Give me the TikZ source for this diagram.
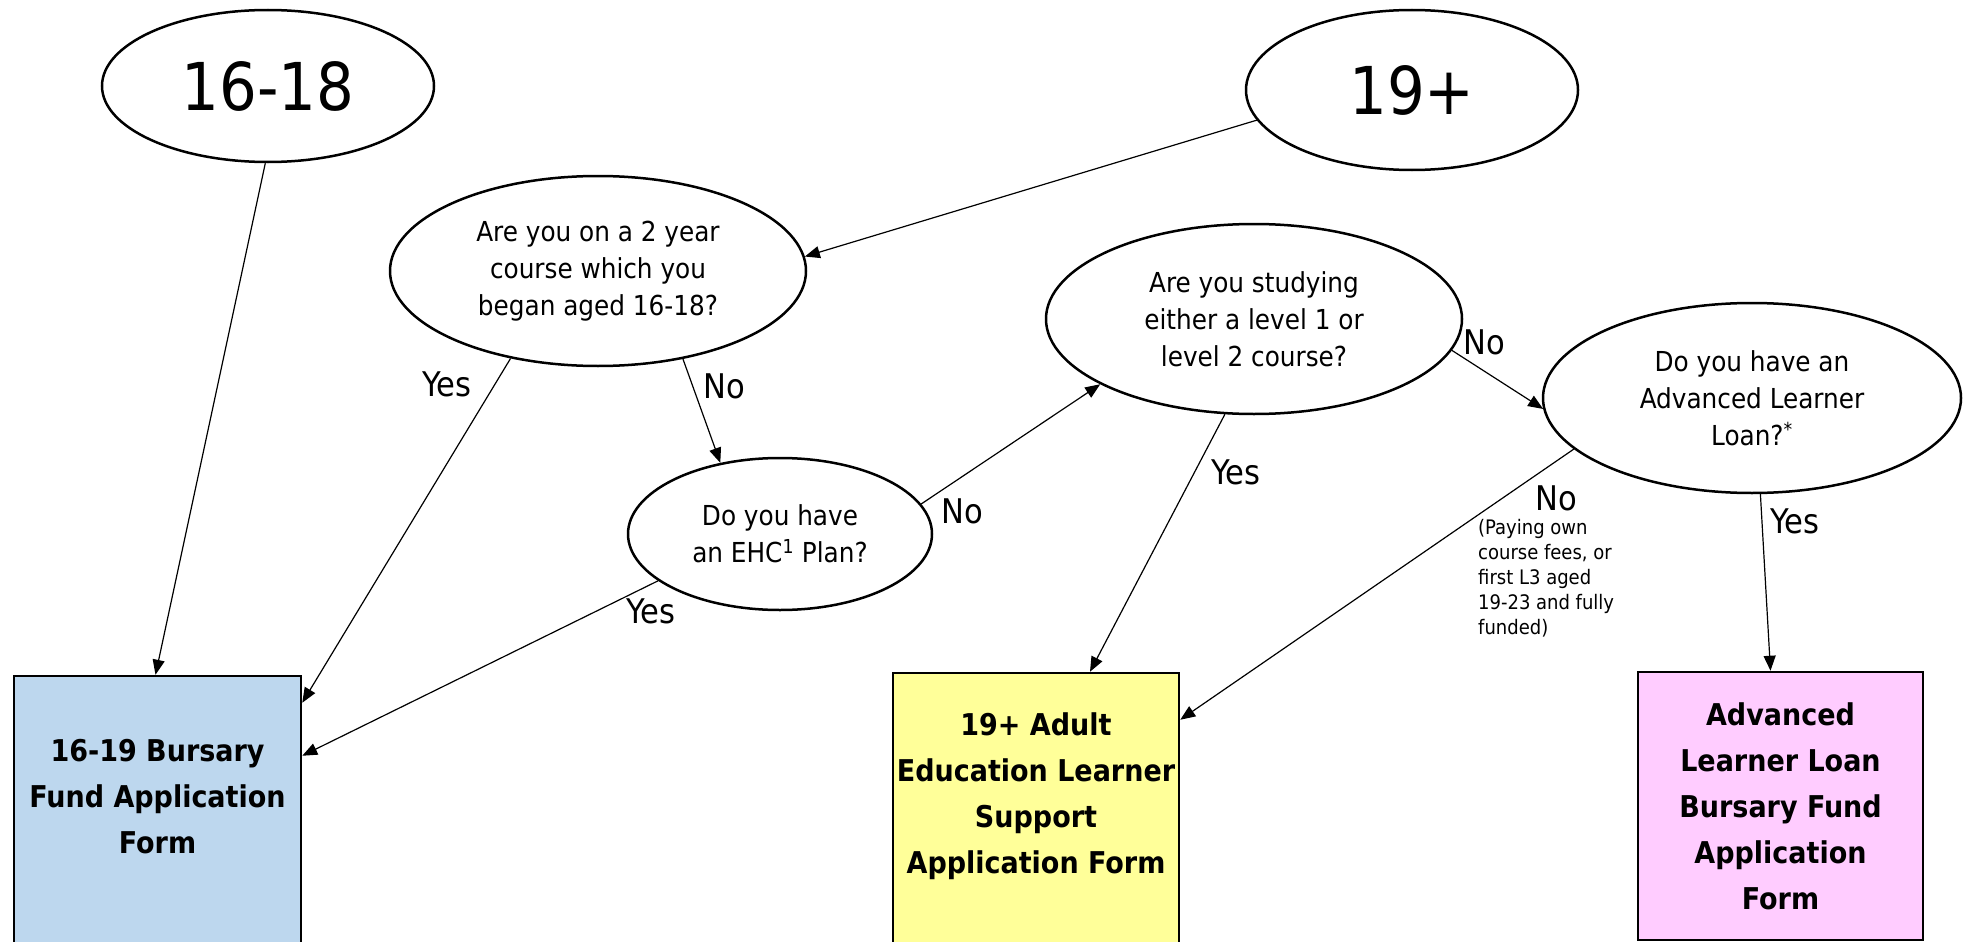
\documentclass[tikz,border=0pt]{standalone}
\usepackage{fontspec}
\setmainfont{DejaVu Sans Condensed}
\usetikzlibrary{positioning, shapes.geometric, arrows.meta}
\definecolor{bursaryblue}{RGB}{189,215,238}
\definecolor{adultyellow}{RGB}{255,255,153}
\definecolor{loanpink}{RGB}{255,204,255}

\begin{document}
\begin{tikzpicture}[x=1pt, y=-1pt,
  age/.style={draw, ellipse, line width=2.5pt, inner sep=0pt, font=\fontsize{66}{70}\selectfont},
  question/.style={draw, ellipse, line width=2.5pt, inner sep=0pt, align=center, font=\fontsize{27.5}{37}\selectfont},
  formbox/.style={draw, rectangle, line width=2.5pt, inner sep=0pt},
  formtext/.style={align=center, font=\bfseries\fontsize{30}{46}\selectfont},
  answer/.style={font=\fontsize{34}{36}\selectfont},
  note/.style={align=left, inner sep=0pt, font=\fontsize{20}{25}\selectfont},
  flow/.style={line width=1.2pt, -{Triangle[length=15pt,width=12pt]}}]
  \useasboundingbox (0,0) rectangle (1966,942);

  % start
  \node[age, minimum width=332pt, minimum height=152pt] (age16) at (268,86) {16-18};
  \node[age, minimum width=332pt, minimum height=160pt] (age19) at (1412,90) {19+};

  % questions
  \node[question, minimum width=416pt, minimum height=190pt] (twoyear) at (598,271)
    {Are you on a 2 year\\course which you\\began aged 16-18?};
  \node[question, minimum width=416pt, minimum height=190pt] (level) at (1254,319)
    {Are you studying\\either a level 1 or\\level 2 course?};
  \node[question, minimum width=418pt, minimum height=190pt] (loan) at (1752,398)
    {Do you have an\\Advanced Learner\\Loan?\textsuperscript{*}};
  \node[question, minimum width=304pt, minimum height=152pt] (ehc) at (780,534)
    {Do you have\\an EHC\textsuperscript{1} Plan?};

  % forms
  \node[formbox, fill=bursaryblue, minimum width=287pt, minimum height=274pt] (bursary) at (157.5,813) {};
  \node[formbox, fill=adultyellow, minimum width=286pt, minimum height=277pt] (adult) at (1036,811.5) {};
  \node[formbox, fill=loanpink, minimum width=285pt, minimum height=268pt] (loanform) at (1780.5,806) {};
  \node[formtext] (bursarytext) at (157.5,797) {16-19 Bursary\\Fund Application\\Form};
  \node[formtext] (adulttext) at (1036,796) {19+ Adult\\Education Learner\\Support\\Application Form};
  \node[formtext] (loantext) at (1780.5,806) {Advanced\\Learner Loan\\Bursary Fund\\Application\\Form};

  % connectors
  \draw[flow] (age16.-92) -- ([xshift=-2pt]bursary.north);
  \draw[flow] (age19.-169) -- (twoyear.4.4);
  \draw[flow] (twoyear.-135.3) -- ([yshift=-28pt]bursary.north east);
  \draw[flow] (twoyear.-46.7) -- (ehc.130);
  \draw[flow] (ehc.-159.2) -- ([yshift=-81pt]bursary.north east);
  \draw[flow] (ehc.12.1) -- (level.-157.2);
  \draw[flow] (level.-107.7) -- ([xshift=54pt]adult.north);
  \draw[flow] (level.-9.7) -- (loan.-177.5);
  \draw[flow] (loan.-164.5) -- ([yshift=-48pt]adult.north east);
  \draw[flow] (loan.-85) -- ([xshift=-10pt]loanform.north);

  % answers
  \node[answer] (yes1) at (447,384) {Yes};
  \node[answer] (no1) at (724,386) {No};
  \node[answer] (yes2) at (651,611) {Yes};
  \node[answer] (no2) at (962,511) {No};
  \node[answer] (no3) at (1484,342) {No};
  \node[answer] (yes3) at (1236,472) {Yes};
  \node[answer] (no4) at (1556,498) {No};
  \node[answer] (yes4) at (1795,521) {Yes};
  \node[note, anchor=north west] (feesnote) at (1478,519)
    {(Paying own\\course fees, or\\first L3 aged\\19-23 and fully\\funded)};
\end{tikzpicture}
\end{document}
